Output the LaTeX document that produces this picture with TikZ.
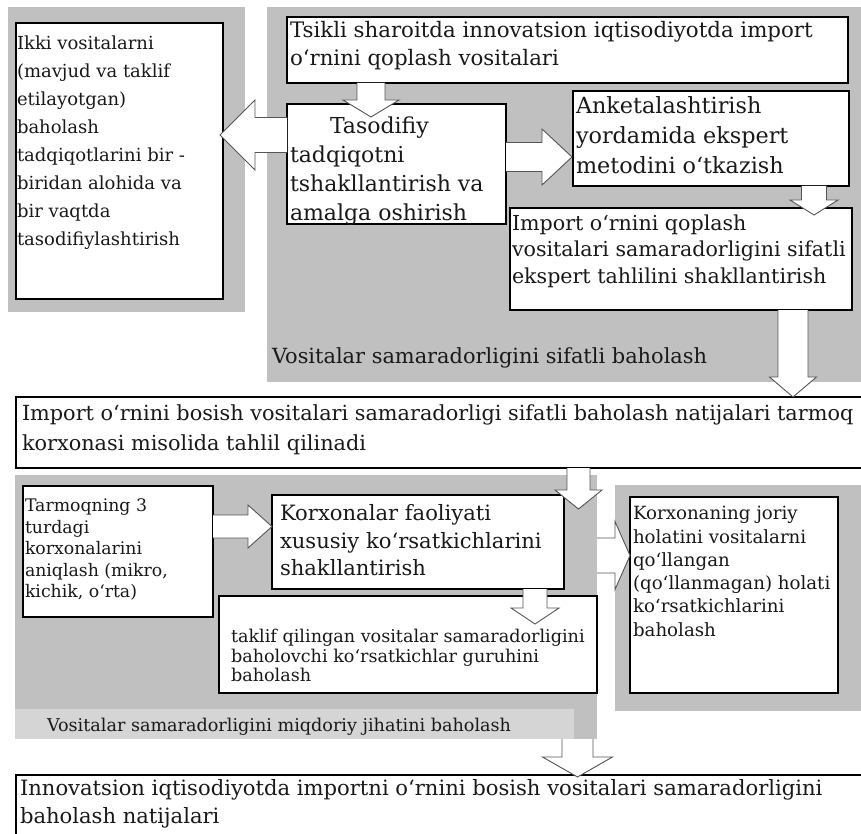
\documentclass[tikz,border=0pt]{standalone}
\usepackage{fontspec}
\setmainfont{DejaVu Serif}
\usetikzlibrary{calc}
\definecolor{panelgray}{RGB}{192,192,192}
\definecolor{bandgray}{RGB}{213,213,213}
\definecolor{arrowline}{RGB}{85,85,85}
\definecolor{ink}{RGB}{25,25,25}
\tikzset{
  panel/.style={fill=panelgray, draw=none, anchor=north west, inner sep=0pt, outer sep=0pt},
  band/.style={fill=bandgray, draw=none, anchor=north west, inner sep=0pt, outer sep=0pt},
  box/.style={fill=white, draw=black, line width=1.1pt, anchor=north west, inner sep=0pt, outer sep=0pt},
  txt/.style={anchor=north west, inner sep=0pt, outer sep=0pt, align=left, text=ink},
  barrow/.style={fill=white, draw=arrowline, line width=0.9pt, line join=miter},
}
% down block arrow: #1 x, #2 from anchor, #3 to anchor, #4 tip offset, #5 shaft half, #6 head half, #7 head length
\newcommand\bdown[7]{\draw[barrow] let \p1=(#2), \p2=(#3) in
  (#1pt-#5pt,\y1) -- (#1pt-#5pt,\y2-#4pt+#7pt) -- (#1pt-#6pt,\y2-#4pt+#7pt) -- (#1pt,\y2-#4pt)
  -- (#1pt+#6pt,\y2-#4pt+#7pt) -- (#1pt+#5pt,\y2-#4pt+#7pt) -- (#1pt+#5pt,\y1);}
% right block arrow: #1 y (pixel), ...
\newcommand\bright[7]{\draw[barrow] let \p1=(#2), \p2=(#3) in
  (\x1,-#1pt+#5pt) -- (\x2+#4pt-#7pt,-#1pt+#5pt) -- (\x2+#4pt-#7pt,-#1pt+#6pt) -- (\x2+#4pt,-#1pt)
  -- (\x2+#4pt-#7pt,-#1pt-#6pt) -- (\x2+#4pt-#7pt,-#1pt-#5pt) -- (\x1,-#1pt-#5pt);}
% left block arrow
\newcommand\bleft[7]{\draw[barrow] let \p1=(#2), \p2=(#3) in
  (\x1,-#1pt+#5pt) -- (\x2-#4pt+#7pt,-#1pt+#5pt) -- (\x2-#4pt+#7pt,-#1pt+#6pt) -- (\x2-#4pt,-#1pt)
  -- (\x2-#4pt+#7pt,-#1pt-#6pt) -- (\x2-#4pt+#7pt,-#1pt-#5pt) -- (\x1,-#1pt-#5pt);}
\begin{document}
\begin{tikzpicture}[x=1pt,y=-1pt]
\useasboundingbox (0,0) rectangle (861,834);
\fill[white] (0,0) rectangle (861,834);
% panels
\node[panel, minimum width=237pt, minimum height=305pt] (panelL) at (8,7) {};
\node[panel, minimum width=600pt, minimum height=375pt] (panelT) at (267,7) {};
\node[panel, minimum width=582pt, minimum height=264pt] (panelB) at (15,475) {};
\node[band, minimum width=559pt, minimum height=30pt] (bandB) at (15,709) {};
\node[panel, minimum width=260pt, minimum height=226pt] (panelR) at (615,485) {};
% boxes
\node[box, minimum width=207pt, minimum height=276pt] (ikki) at (16,23) {};
\node[box, minimum width=561pt, minimum height=66pt] (tsikli) at (287,17) {};
\node[box, minimum width=219pt, minimum height=120pt] (tasodifiy) at (287,104) {};
\node[box, minimum width=276pt, minimum height=95pt] (anketa) at (573,91) {};
\node[box, minimum width=342pt, minimum height=102pt] (importsif) at (510,208) {};
\node[box, minimum width=860pt, minimum height=71pt] (bosish) at (16,397) {};
\node[box, minimum width=190pt, minimum height=131pt] (tarmoq) at (23,486) {};
\node[box, minimum width=292pt, minimum height=94pt] (korxonalar) at (272,495) {};
\node[box, minimum width=378pt, minimum height=97pt] (taklif) at (219,596) {};
\node[box, minimum width=208pt, minimum height=196pt] (korxonaning) at (630,497) {};
\node[box, minimum width=860pt, minimum height=80pt] (final) at (16,775) {};
% texts
\node[txt, font=\fontsize{18}{28}\selectfont] (ikki-t) at (17,30.1) {\strut Ikki vositalarni\\(mavjud va taklif\\etilayotgan)\\baholash\\tadqiqotlarini bir -\\biridan alohida va\\bir vaqtda\\tasodifiylashtirish};
\node[txt, font=\fontsize{21.3}{28}\selectfont] (tsikli-t) at (290,17.9) {\strut Tsikli sharoitda innovatsion iqtisodiyotda import\\o‘rnini qoplash vositalari};
\node[txt, font=\fontsize{22}{29}\selectfont] (tasodifiy-t) at (290,113.4) {\strut\hspace*{40pt}Tasodifiy\\tadqiqotni\\tshakllantirish va\\amalga oshirish};
\node[txt, font=\fontsize{22.3}{30}\selectfont] (anketa-t) at (576,92.8) {\strut Anketalashtirish\\yordamida ekspert\\metodini o‘tkazish};
\node[txt, font=\fontsize{20.6}{26.5}\selectfont] (importsif-t) at (512,211.8) {\strut Import o‘rnini qoplash\\vositalari samaradorligini sifatli\\ekspert tahlilini shakllantirish};
\node[txt, font=\fontsize{20.9}{28}\selectfont] (label1) at (272,343.8) {\strut Vositalar samaradorligini sifatli baholash};
\node[txt, font=\fontsize{20.8}{30}\selectfont] (bosish-t) at (22,399.4) {\strut Import o‘rnini bosish vositalari samaradorligi sifatli baholash natijalari tarmoq\\korxonasi misolida tahlil qilinadi};
\node[txt, font=\fontsize{17.3}{21.5}\selectfont] (tarmoq-t) at (25,496.45) {\strut Tarmoqning 3\\turdagi\\korxonalarini\\aniqlash (mikro,\\kichik, o‘rta)};
\node[txt, font=\fontsize{21.1}{27.5}\selectfont] (korxonalar-t) at (280,501.25) {\strut Korxonalar faoliyati\\xususiy ko‘rsatkichlarini\\shakllantirish};
\node[txt, font=\fontsize{17.6}{19.5}\selectfont] (taklif-t) at (231,628.95) {\strut taklif qilingan vositalar samaradorligini\\baholovchi ko‘rsatkichlar guruhini\\baholash};
\node[txt, font=\fontsize{18.2}{23.3}\selectfont] (korxonaning-t) at (633,503.4) {\strut Korxonaning joriy\\holatini vositalarni\\qo‘llangan\\(qo‘llanmagan) holati\\ko‘rsatkichlarini\\baholash};
\node[txt, font=\fontsize{17.6}{20}\selectfont] (label2) at (47,717.6) {\strut Vositalar samaradorligini miqdoriy jihatini baholash};
\node[txt, font=\fontsize{21.1}{28}\selectfont] (final-t) at (20,775.9) {\strut Innovatsion iqtisodiyotda importni o‘rnini bosish vositalari samaradorligini\\baholash natijalari};
% block arrows
\bdown{371}{tsikli.south}{tasodifiy.north}{13}{14}{28}{17}
\bleft{135}{tasodifiy.west}{ikki.east}{3}{17.5}{35}{35}
\bright{157}{tasodifiy.east}{anketa.west}{-1}{14.5}{28}{30}
\bdown{814}{anketa.south}{importsif.north}{7}{12.5}{24}{15}
\bdown{793}{importsif.south}{bosish.north}{0}{15}{23.5}{20}
\bdown{578.5}{bosish.south}{panelB.north}{34}{11.5}{23.5}{19}
\bdown{535}{korxonalar.south}{taklif.north}{28}{12}{24}{16}
\bright{526.5}{tarmoq.east}{korxonalar.west}{0}{11.5}{21.5}{24}
\bright{555.5}{panelB.east}{korxonaning.west}{0}{17.5}{34}{15}
\bdown{577.5}{panelB.south}{final.north}{2}{15.5}{35}{20}
\end{tikzpicture}
\end{document}
